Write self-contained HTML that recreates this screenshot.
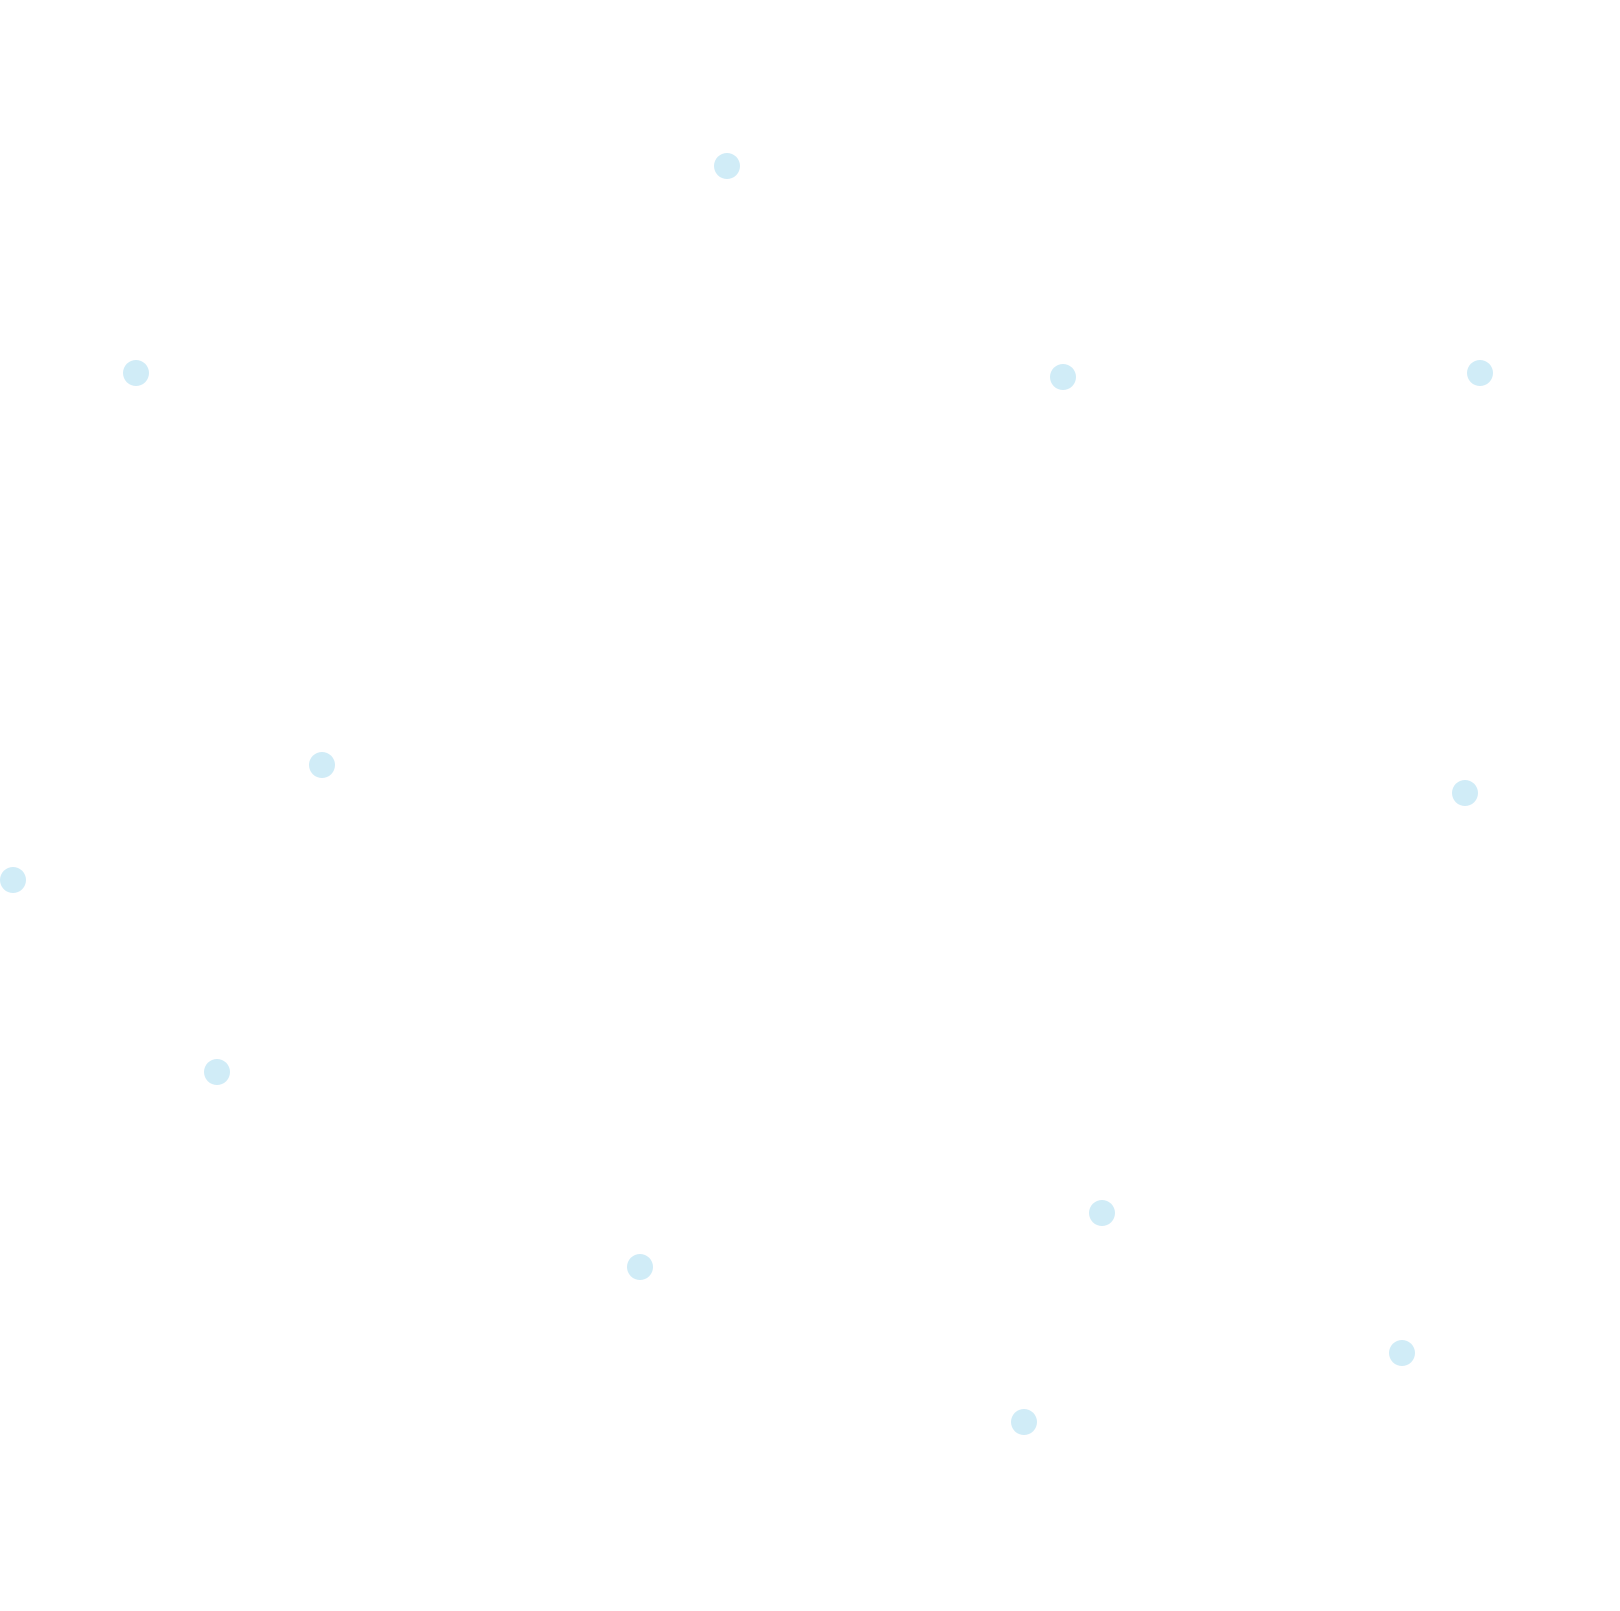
<!DOCTYPE html>
<html><head><meta charset="utf-8"><style>html,body{margin:0;padding:0;background:#fff;width:1620px;height:1611px;overflow:hidden}</style></head>
<body>
<svg width="1620" height="1611" viewBox="0 0 1620 1611" xmlns="http://www.w3.org/2000/svg">
<g fill="#d0ecf7">
<circle cx="727" cy="166" r="13"/>
<circle cx="136" cy="373" r="13"/>
<circle cx="1063" cy="377" r="13"/>
<circle cx="1480" cy="373" r="13"/>
<circle cx="322" cy="765" r="13"/>
<circle cx="13" cy="880" r="13"/>
<circle cx="1465" cy="793" r="13"/>
<circle cx="217" cy="1072" r="13"/>
<circle cx="1102" cy="1213" r="13"/>
<circle cx="640" cy="1267" r="13"/>
<circle cx="1402" cy="1353" r="13"/>
<circle cx="1024" cy="1422" r="13"/>
</g>
</svg>
</body></html>
